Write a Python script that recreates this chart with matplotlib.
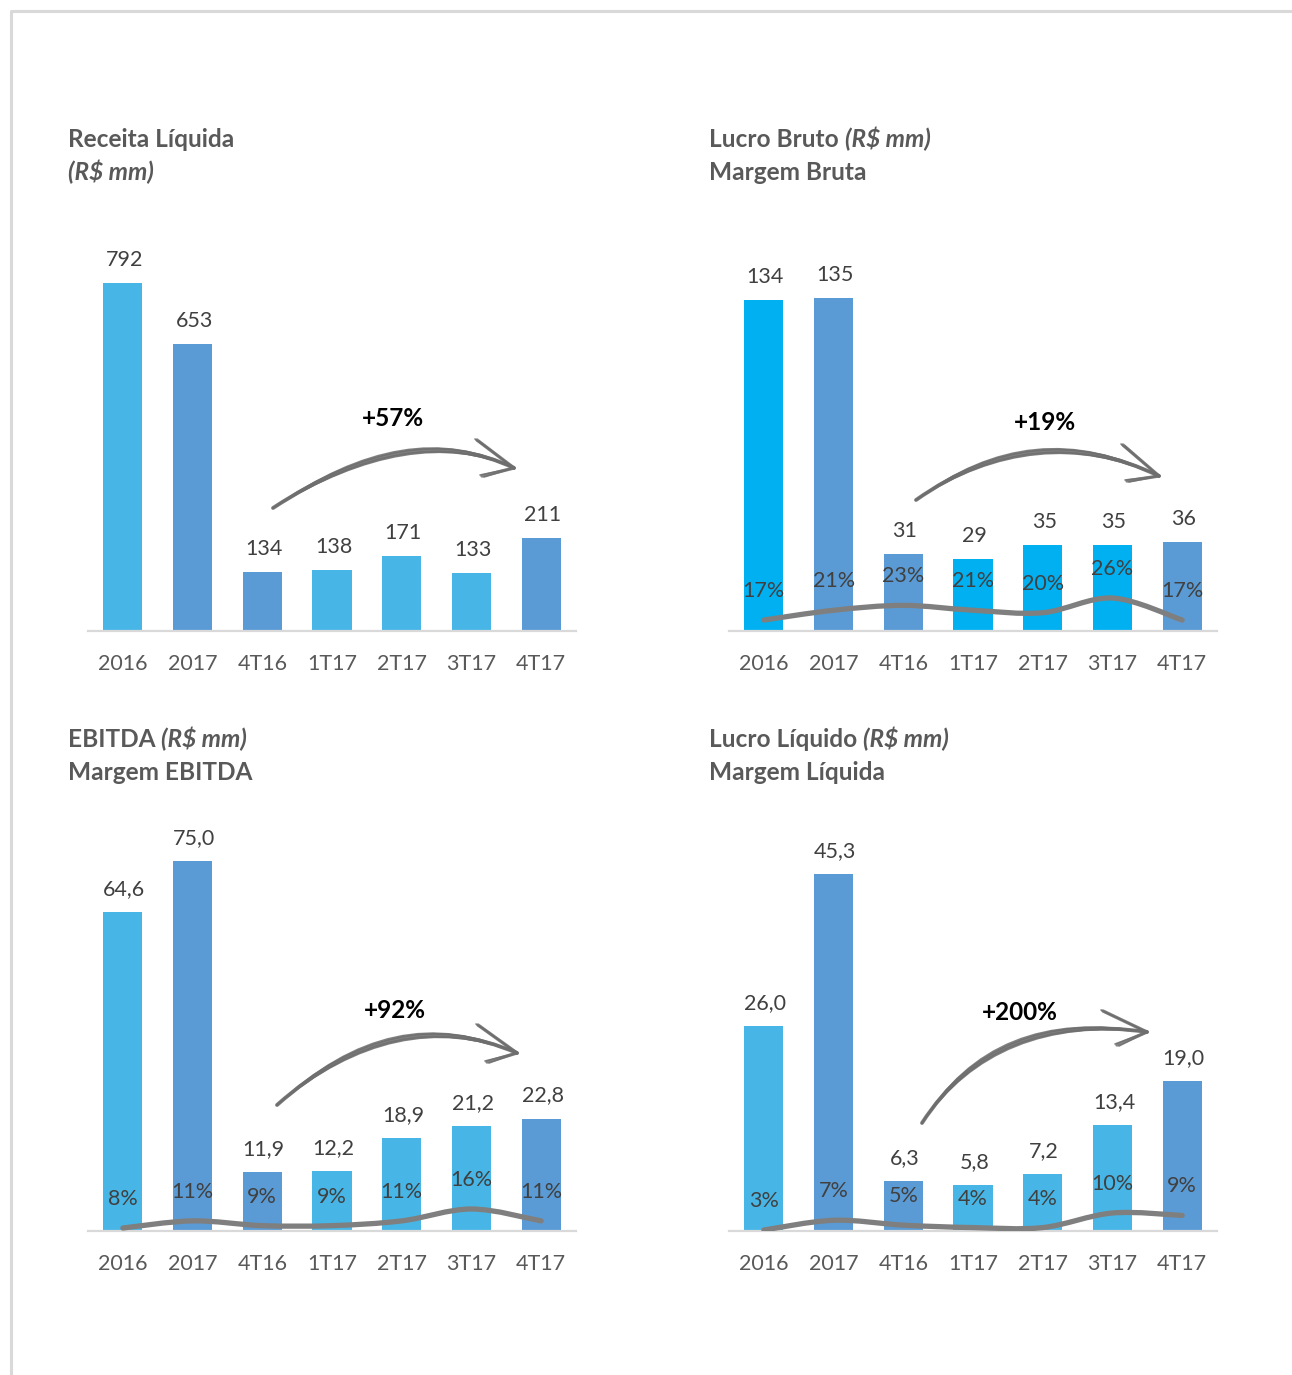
import matplotlib
matplotlib.use("Agg")
import matplotlib.pyplot as plt
from matplotlib.path import Path
from matplotlib.patches import PathPatch
from matplotlib.lines import Line2D

# ---------------- data ----------------
categorias = ['2016', '2017', '4T16', '1T17', '2T17', '3T17', '4T17']
receita = [792, 653, 134, 138, 171, 133, 211]
lucro_bruto = [134, 135, 31, 29, 35, 35, 36]
margem_bruta = [17, 21, 23, 21, 20, 26, 17]
ebitda = [64.6, 75.0, 11.9, 12.2, 18.9, 21.2, 22.8]
margem_ebitda = [8, 11, 9, 9, 11, 16, 11]
lucro_liquido = [26.0, 45.3, 6.3, 5.8, 7.2, 13.4, 19.0]
margem_liquida = [3, 7, 5, 4, 4, 10, 9]
crescimento = ['+57%', '+19%', '+92%', '+200%']

tons_p1 = ['L', 'D', 'D', 'L', 'L', 'L', 'D']
tons_p2 = ['B', 'D', 'D', 'B', 'B', 'B', 'D']
tons_p3 = ['L', 'D', 'D', 'L', 'L', 'L', 'D']
tons_p4 = ['L', 'D', 'D', 'L', 'L', 'L', 'D']

# ---------------- style ----------------
COR = {'L': '#47B6E6', 'D': '#5B9BD5', 'B': '#00B0F0'}
GRAY_TXT = '#595959'
VAL_TXT = '#404040'
LINE_C = '#7F7F7F'
FONT = ['Lato', 'DejaVu Sans']
plt.rcParams['font.family'] = FONT

W, H = 1292, 1375
DPI = 100
fig = plt.figure(figsize=(W / DPI, H / DPI), dpi=DPI)
fig.patch.set_facecolor('white')

PX2PT = 72.0 / DPI
TITLE_FS = 17.6


def fx(x):
    return x / W


def fy(y):
    return 1 - y / H


# light frame
fig.add_artist(Line2D([fx(11), fx(11), fx(W)], [fy(H), fy(11), fy(11)],
                      transform=fig.transFigure, color='#D9D9D9', lw=2.2))

AX_H = 400  # px


def make_axes(left, bottom, width=488):
    return fig.add_axes([fx(left), fy(bottom), width / W, AX_H / H])


def smooth_path(xs, ys):
    pts = list(zip(xs, ys))
    n = len(pts)
    verts = [pts[0]]
    codes = [Path.MOVETO]
    for i in range(n - 1):
        p0 = pts[i - 1] if i > 0 else pts[i]
        p1 = pts[i]
        p2 = pts[i + 1]
        p3 = pts[i + 2] if i + 2 < n else pts[i + 1]
        c1 = (p1[0] + (p2[0] - p0[0]) / 6, p1[1] + (p2[1] - p0[1]) / 6)
        c2 = (p2[0] - (p3[0] - p1[0]) / 6, p2[1] - (p3[1] - p1[1]) / 6)
        verts += [c1, c2, p2]
        codes += [Path.CURVE4] * 3
    return Path(verts, codes)


def panel(left, bottom, values, tons, ymax, fmt, margin=None, mlim=None):
    ax = make_axes(left, bottom)
    x = list(range(len(categorias)))
    ax.bar(x, values, width=0.56, color=[COR[t] for t in tons], zorder=2)
    ax.set_xlim(-0.5, len(categorias) - 0.5)
    ax.set_ylim(0, ymax)
    for s in ['top', 'right', 'left']:
        ax.spines[s].set_visible(False)
    ax.spines['bottom'].set_color('#D9D9D9')
    ax.spines['bottom'].set_linewidth(1.6)
    ax.set_yticks([])
    ax.set_xticks(x)
    ax.set_xticklabels(categorias, fontsize=15.5, color=GRAY_TXT)
    ax.tick_params(axis='x', length=0, pad=16.8)
    ax.patch.set_alpha(0)
    for xi, v in zip(x, values):
        ax.annotate(fmt(v), xy=(xi, v), xytext=(1.5 * PX2PT, 17 * PX2PT),
                    textcoords='offset points', ha='center', va='baseline',
                    fontsize=15.5, color=VAL_TXT, zorder=5)
    if margin is not None:
        ax2 = ax.twinx()
        ax2.set_ylim(*mlim)
        ax2.axis('off')
        path = smooth_path(x, margin)
        ax2.add_patch(PathPatch(path, facecolor='none', edgecolor=LINE_C,
                                lw=3.8, capstyle='round', joinstyle='round',
                                zorder=3))
        for xi, m in zip(x, margin):
            ax2.annotate(f'{m}%', xy=(xi, m), xytext=(0, 23 * PX2PT),
                         textcoords='offset points', ha='center',
                         va='baseline', fontsize=15.5, color=VAL_TXT,
                         zorder=6)
    return ax


def title(x, y, bold, italic=None, line2=None, italic_line2=False):
    t = fig.text(fx(x), fy(y), bold, fontsize=TITLE_FS, fontweight='bold',
                 color=GRAY_TXT, ha='left', va='baseline')
    if italic is not None:
        plt.annotate(italic, xy=(1, 0), xycoords=t, ha='left',
                     va='bottom', fontsize=TITLE_FS, fontweight='bold',
                     fontstyle='italic', color=GRAY_TXT,
                     annotation_clip=False)
    if line2 is not None:
        fig.text(fx(x), fy(y + 33), line2, fontsize=TITLE_FS,
                 fontweight='bold',
                 fontstyle='italic' if italic_line2 else 'normal',
                 color=GRAY_TXT, ha='left', va='baseline')


def sketch_arrow(p0, c, p1, up, low, label, lab_xy):
    offs = [(0, 0, 2.8), (0, 3, 1.6), (0, -3, 1.4), (2, 5, 1.0), (-2, -5, 1.0)]
    for dx, dy, lw in offs:
        verts = [(fx(p0[0]), fy(p0[1])), (fx(c[0] + dx), fy(c[1] + dy)),
                 (fx(p1[0]), fy(p1[1]))]
        pth = Path(verts, [Path.MOVETO, Path.CURVE3, Path.CURVE3])
        fig.add_artist(PathPatch(pth, transform=fig.transFigure,
                                 facecolor='none', edgecolor='#6E6E6E',
                                 lw=lw, alpha=0.85, capstyle='round'))
    for b in (up, low):
        for d, lw in [(0, 2.4), (2, 1.2), (-2, 1.2)]:
            fig.add_artist(Line2D([fx(b[0] + d), fx(p1[0])],
                                  [fy(b[1] + d * 0.5), fy(p1[1])],
                                  transform=fig.transFigure, color='#6E6E6E',
                                  lw=lw, alpha=0.85, solid_capstyle='round'))
    fig.text(fx(lab_xy[0]), fy(lab_xy[1]), label, fontsize=17.5,
             fontweight='bold', color='black', ha='center', va='center')


def fmt_int(v):
    return f'{v:d}'


def fmt_dec(v):
    return f'{v:.1f}'.replace('.', ',')


# ---------------- panels ----------------
panel(88, 631, receita, tons_p1, 910, fmt_int)
panel(729, 631, lucro_bruto, tons_p2, 162, fmt_int,
      margin=margem_bruta, mlim=(12.5, 12.5 + AX_H / 2.44))
panel(88, 1231, ebitda, tons_p3, 81.1, fmt_dec,
      margin=margem_ebitda, mlim=(6.74, 6.74 + AX_H / 2.375))
panel(729, 1231, lucro_liquido, tons_p4, 50.8, fmt_dec,
      margin=margem_liquida, mlim=(2.59, 2.59 + AX_H / 2.43))

# ---------------- titles ----------------
title(68, 147, 'Receita Líquida', line2='(R$ mm)', italic_line2=True)
title(709, 147, 'Lucro Bruto ', italic='(R$ mm)', line2='Margem Bruta')
title(68, 747, 'EBITDA ', italic='(R$ mm)', line2='Margem EBITDA')
title(709, 747, 'Lucro Líquido ', italic='(R$ mm)', line2='Margem Líquida')

# ---------------- growth arrows ----------------
sketch_arrow((273, 508), (410, 418), (514, 468), (477, 440), (482, 476),
             crescimento[0], (393, 418))
sketch_arrow((916, 500), (1035, 416), (1159, 476), (1123, 445), (1127, 481),
             crescimento[1], (1045, 422))
sketch_arrow((277, 1105), (395, 1000), (517, 1053), (478, 1025), (487, 1062),
             crescimento[2], (395, 1010))
sketch_arrow((922, 1123), (995, 1010), (1147, 1032), (1103, 1011),
             (1117, 1045), crescimento[3], (1020, 1012))

fig.savefig('out.png', dpi=DPI)
